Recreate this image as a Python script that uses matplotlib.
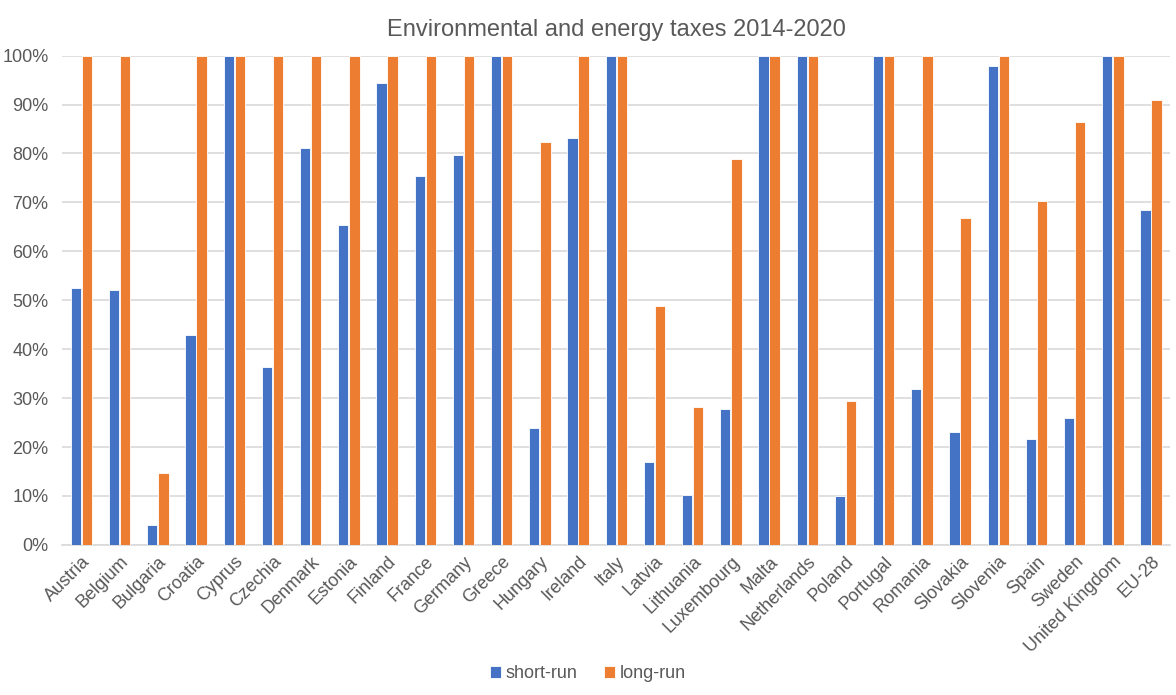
import numpy as np
import matplotlib.pyplot as plt
from matplotlib.ticker import PercentFormatter

countries = ['Austria', 'Belgium', 'Bulgaria', 'Croatia', 'Cyprus', 'Czechia', 'Denmark',
             'Estonia', 'Finland', 'France', 'Germany', 'Greece', 'Hungary', 'Ireland',
             'Italy', 'Latvia', 'Lithuania', 'Luxembourg', 'Malta', 'Netherlands', 'Poland',
             'Portugal', 'Romania', 'Slovakia', 'Slovenia', 'Spain', 'Sweden',
             'United Kingdom', 'EU-28']
short_run = [52.6, 52.0, 4.0, 42.9, 100, 36.3, 81.1, 65.3, 94.5, 75.3, 79.7, 100, 23.8, 83.1,
             100, 17.0, 10.1, 27.8, 100, 100, 9.9, 100, 31.8, 23.1, 97.8, 21.6, 25.9,
             100, 68.5]
long_run = [100, 100, 14.7, 100, 100, 100, 100, 100, 100, 100, 100, 100, 82.4, 100,
            100, 48.8, 28.1, 78.9, 100, 100, 29.4, 100, 100, 66.8, 100, 70.3, 86.5,
            100, 91.0]

text_col = '#595959'
plt.rcParams['font.family'] = ['Liberation Sans', 'DejaVu Sans']

fig = plt.figure(figsize=(11.76, 6.95), dpi=100)
ax = fig.add_axes([0.053, 0.216, 0.942, 0.704])

x = np.arange(len(countries))
w = 0.27
ax.bar(x - 0.145, short_run, w, color='#4472C4', edgecolor='white', linewidth=0.6,
       label='short-run', zorder=3)
ax.bar(x + 0.145, long_run, w, color='#ED7D31', edgecolor='white', linewidth=0.6,
       label='long-run', zorder=3)

ax.set_xlim(-0.5, len(countries) - 0.5)
ax.set_ylim(0, 100)
ax.set_yticks(np.arange(0, 101, 10))
ax.yaxis.set_major_formatter(PercentFormatter(decimals=0))
ax.grid(axis='y', color='#D9D9D9', linewidth=1.2, zorder=0)
for s in ['top', 'right', 'left']:
    ax.spines[s].set_visible(False)
ax.spines['bottom'].set_color('#D9D9D9')
ax.spines['bottom'].set_linewidth(1.2)
ax.tick_params(length=0, colors=text_col, labelsize=13)
ax.tick_params(axis='x', pad=6)
ax.tick_params(axis='y', pad=10)
ax.set_xticks(x)
ax.set_xticklabels(countries, rotation=45, ha='right', rotation_mode='anchor')

ax.set_title('Environmental and energy taxes 2014-2020', fontsize=17, color=text_col, pad=14)

fig.legend(loc='lower center', bbox_to_anchor=(0.5, -0.005), ncol=2, frameon=False,
           fontsize=13, handlelength=0.6, handleheight=0.6, handletextpad=0.25,
           columnspacing=1.5, labelcolor=text_col)

fig.savefig('out.png', dpi=100)
